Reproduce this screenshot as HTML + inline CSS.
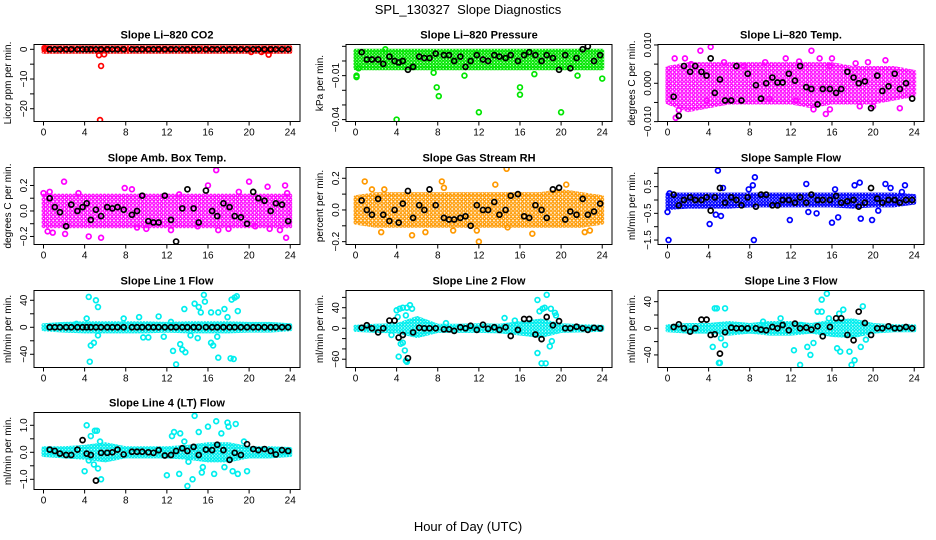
<!DOCTYPE html>
<html><head><meta charset="utf-8"><style>
html,body{margin:0;padding:0;background:#fff;}
svg{display:block;font-family:"Liberation Sans",sans-serif;}
</style></head><body>
<svg id="c" width="936" height="540" viewBox="0 0 936 540">
<defs id="defs"></defs>
<text x="468" y="14" text-anchor="middle" font-size="13" style="white-space:pre">SPL_130327  Slope Diagnostics</text>
<text x="468" y="531" text-anchor="middle" font-size="13">Hour of Day (UTC)</text>
</svg>
<script>
const blackX=[0.6,1.1,1.6,2.2,2.7,3.3,3.8,4.2,4.6,5.1,5.6,6.2,6.7,7.2,7.8,8.6,9.1,9.6,10.2,10.7,11.2,11.8,12.4,12.9,13.5,14,14.6,15.1,15.8,16.4,16.9,17.5,18.1,18.6,19.2,19.8,20.4,20.9,21.5,22.1,22.6,23.2,23.8];
const bandX=[0,2,4,6,8,10,12,14,16,18,20,22,24];
const xTicks=[0,4,8,12,16,20,24];

const p1Black=[0,0,0,0,0,0,0,0,0,0,0,0,0,0,0,0,0,0,0,0,0,0,0,0,0,0,0,0,0,0,0,0,0,0,0,0,0,0,0,0,0,0,0];
const p1Hi=[0.7,0.7,0.7,0.7,0.7,0.7,0.7,0.7,0.7,0.7,0.7,0.7,0.7];
const p1Lo=[-0.8,-0.8,-0.8,-0.8,-0.8,-0.8,-0.8,-0.8,-0.8,-0.8,-0.8,-0.8,-0.8];
const p1X=[5.4,5.6,5.5,5.9,21.9,20.2,21.2,0.1];
const p1Y=[-2,-5.6,-23.8,-1.7,-1.8,-0.9,-0.9,0.4];

const p2Black=[0.006,0.001,0.001,0.001,-0.002,0.003,0.0,-0.001,0.0,-0.006,-0.004,0.003,0.002,0.002,0.005,0.004,0.004,0.0,0.003,-0.004,0.0,0.004,0.001,0.0,0.004,0.003,0.002,0.004,0.0,0.004,0.006,0.004,0.0,0.004,0.002,-0.006,0.004,-0.005,0.002,0.008,0.010,0.0,0.004];
const p2Hi=[0.007,0.007,0.007,0.007,0.007,0.007,0.007,0.007,0.007,0.007,0.007,0.007,0.007];
const p2Lo=[-0.005,-0.005,-0.005,-0.005,-0.005,-0.005,-0.005,-0.005,-0.005,-0.005,-0.005,-0.005,-0.005];
const p2X=[0.1,0.1,4,7.9,8.1,12,16,16,20,24,10.6,21.6,7.6,17.4,0.3,2.9];
const p2Y=[-0.010,-0.011,-0.040,-0.018,-0.024,-0.035,-0.018,-0.023,-0.035,-0.012,-0.010,-0.010,-0.008,-0.009,-0.005,0.008];

const p3Black=[-0.0035,-0.0085,0.0045,0.003,0.0045,0.003,0.002,0.0065,-0.0025,0.001,-0.0045,-0.0045,0.0045,-0.0045,0.0025,-0.0005,-0.004,0,0.0015,0.0002,0.0002,0.0025,0.0007,0.0045,-0.001,-0.0015,-0.0055,-0.0015,-0.0015,-0.0025,-0.0015,0.003,0.0015,0,0.0005,-0.0065,0.002,-0.002,-0.0008,0.0025,-0.0015,0,-0.004];
const p3Hi=[0.004,0.005,0.005,0.005,0.005,0.005,0.005,0.005,0.005,0.004,0.004,0.004,0.003];
const p3Lo=[-0.005,-0.007,-0.006,-0.005,-0.005,-0.005,-0.005,-0.006,-0.005,-0.005,-0.005,-0.004,-0.003];
const p3X=[0.8,1.1,0.7,3.2,4.2,2.3,1.7,7.4,9.5,11.5,12.8,14,14.8,15.8,15.4,15.8,14.2,18.3,19.5,21.2,22.6,20,18.7,5.5,3.8,9.9,16,12.5];
const p3Y=[-0.009,-0.007,0.0065,0.0085,0.0095,0.005,0.0065,0.0045,0.0055,0.0065,0.0057,0.0085,0.0065,0.0045,-0.008,-0.0068,-0.0068,0.0052,0.0055,0.006,-0.0065,-0.006,-0.006,0.0055,-0.0045,-0.004,0.0065,-0.0045];

const p4Black=[0.1,0.03,-0.01,-0.12,0.05,0.0,0.03,0.06,-0.07,0.01,-0.04,0.03,0.02,0.03,0.01,-0.03,0.0,0.12,-0.08,-0.09,-0.09,0.12,-0.07,-0.24,0.02,0.17,0.02,-0.09,0.16,0.0,-0.04,0.06,0.03,-0.04,-0.05,-0.1,0.15,0.1,0.08,0.0,0.06,0.05,-0.08];
const p4Hi=[0.12,0.12,0.12,0.12,0.12,0.12,0.12,0.12,0.12,0.12,0.12,0.12,0.12];
const p4Lo=[-0.12,-0.12,-0.12,-0.12,-0.12,-0.12,-0.12,-0.12,-0.12,-0.12,-0.12,-0.12,-0.12];
const p4X=[0,0.6,2.0,2.1,0.4,0.9,3.4,4.4,5.6,7.9,8.6,9.1,10.0,12.4,13.2,15.0,16.0,16.8,17.0,18.0,19.0,20.0,20.6,21.8,22.0,23.0,23.5,23.6,23.7];
const p4Y=[0.14,0.15,0.23,-0.18,-0.16,-0.17,0.14,-0.2,-0.21,0.18,0.17,-0.13,-0.14,-0.15,0.13,-0.12,0.2,0.32,-0.15,-0.14,0.15,0.23,-0.12,0.19,-0.14,-0.15,0.2,-0.21,0.14];

const p5Black=[0.06,0.0,-0.03,0.07,-0.03,-0.07,0.0,-0.08,0.04,0.12,-0.05,0.03,0.0,0.13,0.03,-0.05,-0.06,-0.06,-0.05,-0.04,-0.1,0.03,0.0,0.0,0.05,-0.03,0.0,0.09,0.1,-0.04,-0.05,0.03,0.0,-0.05,0.13,0.14,-0.06,-0.01,-0.03,0.07,-0.03,-0.01,0.04];
const p5Hi=[0.08,0.1,0.1,0.1,0.1,0.1,0.1,0.1,0.1,0.1,0.12,0.1,0.08];
const p5Lo=[-0.08,-0.1,-0.1,-0.1,-0.1,-0.1,-0.1,-0.1,-0.1,-0.1,-0.1,-0.1,-0.08];
const p5X=[0.9,1.6,2.5,2.8,5.5,6.8,8.4,8.6,9.5,12.0,11.8,13.6,14.7,14.8,17.2,20.5,22.3,22.8];
const p5Y=[0.18,0.13,-0.14,0.13,-0.16,-0.14,0.18,0.14,-0.13,-0.2,-0.13,0.16,0.26,-0.11,-0.15,0.16,-0.14,-0.13];

const p6Black=[0.2,-0.2,0.0,0.1,0.0,0.0,0.1,-0.4,0.1,0.45,-0.1,0.1,0.0,-0.2,0.1,-0.25,0.2,0.2,-0.2,-0.2,0.0,0.0,-0.1,0.1,-0.1,0.2,0.0,0.0,0.0,0.15,-0.1,-0.05,0.0,-0.25,-0.1,0.45,0.05,-0.1,0.0,0.0,-0.1,0.0,0.0];
const p6Hi=[0.2,0.2,0.2,0.2,0.2,0.2,0.2,0.2,0.2,0.2,0.2,0.2,0.15];
const p6Lo=[-0.3,-0.25,-0.25,-0.25,-0.2,-0.2,-0.2,-0.2,-0.2,-0.25,-0.2,-0.2,-0.1];
const p6X=[0.1,0,0.2,4.1,4.9,5.4,4.7,5.2,8.4,8.5,8.3,7.9,11.9,13.5,13.7,14.5,16,16.6,16.3,18.2,18.7,18.8,19.9,21.2,21.7,23.1,22.8,20.5];
const p6Y=[-1.5,-0.45,0.25,-0.9,1.1,0.45,-0.55,-0.6,-1.5,0.85,0.55,0.4,-0.75,0.6,-0.45,-0.5,-0.85,-0.65,0.4,0.55,0.65,-0.7,-0.75,0.6,0.45,0.55,0.3,-0.4];

const p7Black=[0,0,0,0,0,0,0,0,0,0,0,0,0,0,0,0,0,0,0,0,0,0,0,0,0,0,0,0,0,0,0,0,0,0,0,0,0,0,0,0,0,0,0];
const p7Hi=[3,5,6,6,6,6,5,6,6,6,5,5,3];
const p7Lo=[-3,-5,-6,-6,-6,-6,-5,-6,-6,-6,-5,-5,-3];
const p7X=[4.4,5.1,5.3,4.6,4.9,4.5,5.3,4.2,7.8,9.3,9.7,10.2,11.2,11.7,12.6,12.9,13.3,13.5,13.8,13.7,14.7,15.1,15.3,15.6,15.7,16.3,16.5,16.3,17,17.0,17.6,17.9,18.2,18.5,18.3,18.6,18.8,18.9,15.0,14.3,16.9,12.4,3.2];
const p7Y=[45,40,30,-27,-23,-51,-12,13,13,15,-15,-15,16,-14,-35,-55,-25,-33,-37,27,35,30,22,48,38,-23,-27,22,-45,22,27,15,-46,-47,41,44,46,24,-16,-12,-14,8,5];

const p8Black=[1,6,0,-8,0,15,15,-18,-13,-58,-8,1,0,0,0,-2,-2,-5,2,0,5,-3,7,-1,2,-3,2,-15,-3,18,18,-12,-21,22,6,14,0,0,3,0,-3,1,0];
const p8Hi=[3,5,6,20,5,5,6,5,10,15,6,4,3];
const p8Lo=[-3,-5,-6,-15,-5,-5,-5,-6,-10,-15,-5,-4,-3];
const p8X=[4.0,4.3,4.6,5.0,5.3,5.5,4.1,4.9,4.4,4.6,4.8,4.2,4.9,5.0,14.5,15.5,17.7,17.9,18.2,18.6,18.4,19.0,19.4,17.7,18.1,18.5,18.9,19.1,19.5,3.5,8.8];
const p8Y=[35,38,40,40,45,38,22,25,-30,-28,-43,-55,-63,-65,20,15,55,33,38,65,40,38,30,-48,-68,-68,-35,-25,25,-13,10];

const p9Black=[2,6,0,-5,0,13,13,-10,-9,-38,-6,1,0,0,0,0,-2,-3,2,0,5,-3,7,0,1,-2,3,-12,2,15,15,-10,-18,25,8,-10,0,0,3,0,0,2,0];
const p9Hi=[3,5,5,8,5,8,8,5,10,12,5,3,3];
const p9Lo=[-3,-5,-5,-8,-5,-8,-8,-5,-10,-12,-5,-3,-3];
const p9X=[4.6,4.8,5.6,4.4,5.0,5.1,5.6,5.2,9.3,11.0,12.3,12.9,13.6,13.9,14.2,14.6,15.0,15.5,15.7,16.5,16.8,17.1,17.7,17.9,18.2,18.8,19.0,19.3,16.7,15.0,13.0];
const p9Y=[30,30,30,-28,-52,-52,-25,-15,10,15,-33,-55,-28,-40,-22,25,43,52,15,-30,-35,28,-35,-55,-48,-28,33,-17,22,25,5];

const p10Black=[0.1,0.05,-0.05,-0.1,-0.1,0.1,0.45,-0.05,-0.1,-1.05,-0.02,-0.02,0.0,0.1,-0.08,0.02,0.02,0.02,0.0,-0.02,0.08,-0.12,-0.1,0.05,0.15,0.05,0.2,-0.1,0.1,0.08,0.28,0.08,-0.28,-0.02,-0.1,0.3,0.12,0.08,0.12,0.05,-0.08,0.08,0.05];
const p10Hi=[0.15,0.15,0.2,0.3,0.15,0.15,0.15,0.2,0.3,0.3,0.15,0.15,0.12];
const p10Lo=[-0.1,-0.15,-0.2,-0.3,-0.15,-0.15,-0.15,-0.2,-0.3,-0.3,-0.15,-0.15,-0.1];
const p10X=[4.2,4.0,4.6,5.0,5.2,5.5,5.3,5.6,4.9,4.4,12.0,12.5,12.7,13.3,13.2,13.7,14.1,14.0,14.5,14.7,15.1,15.5,15.4,16.0,16.6,16.8,17.3,17.9,18.0,18.7,18.4,18.9,19.8,19.5,17.6];
const p10Y=[1.0,-0.7,0.6,0.8,0.8,0.4,-0.6,-1.0,-0.45,-0.3,-0.85,0.6,0.75,0.7,-0.8,0.4,-0.35,-1.25,-1.0,1.35,0.75,-0.55,-0.75,0.95,-0.8,1.15,0.7,1.1,0.95,1.05,-0.7,-0.8,-0.7,0.4,-0.55];

const NS='http://www.w3.org/2000/svg';
const svg=document.getElementById('c');
const defs=document.getElementById('defs');
const W=266,H=77;
const cols=[34,346,658], rows=[44.5,167.5,290.5,412.5];
function mk(tag,attrs,parent){const e=document.createElementNS(NS,tag);for(const k in attrs)e.setAttribute(k,attrs[k]);(parent||svg).appendChild(e);return e;}

const patMade={};
function pattern(color,dense){
  const id='pat-'+color.replace('#','')+(dense?'d':'');
  if(!patMade[id]){
    const s=dense?3.2:3.8;
    const p=mk('pattern',{id:id,width:s,height:s,patternUnits:'userSpaceOnUse'},defs);
    mk('circle',{cx:s/2,cy:s/2,r:1.25,fill:'none',stroke:color,'stroke-width':1.2},p);
    patMade[id]=1;
  }
  return 'url(#'+id+')';
}

const panels=[
 {t:'Slope Li\u2013820 CO2',yl:'Licor ppm per min.',c:0,r:0,d:[-24.3,1.62],ticks:[0,-5,-10,-15,-20],labs:[0,-10,-20],fmt:v=>String(v).replace('-','\u2212'),col:'#ff0000',dense:true,bk:p1Black,hi:p1Hi,lo:p1Lo,px:p1X,py:p1Y,n:'co2'},
 {t:'Slope Li\u2013820 Pressure',yl:'kPa per min.',c:1,r:0,d:[-0.0413,0.01125],ticks:[0.01,0,-0.01,-0.02,-0.03,-0.04],labs:[-0.01,-0.04],fmt:v=>v.toFixed(2).replace('-','\u2212'),col:'#00e600',dense:true,bk:p2Black,hi:p2Hi,lo:p2Lo,px:p2X,py:p2Y,n:'pressure'},
 {t:'Slope Li\u2013820 Temp.',yl:'degrees C per min.',c:2,r:0,d:[-0.00997,0.01012],ticks:[0.01,0.005,0,-0.005,-0.01],labs:[0.01,0,-0.01],fmt:v=>v.toFixed(3).replace('-','\u2212'),col:'#ff00ff',dense:false,bk:p3Black,hi:p3Hi,lo:p3Lo,px:p3X,py:p3Y,n:'li820-temp'},
 {t:'Slope Amb. Box Temp.',yl:'degrees C per min.',c:0,r:1,d:[-0.263,0.341],ticks:[0.2,0.1,0,-0.1,-0.2],labs:[0.2,0,-0.2],fmt:v=>v.toFixed(1).replace('-','\u2212'),col:'#ff00ff',dense:false,bk:p4Black,hi:p4Hi,lo:p4Lo,px:p4X,py:p4Y,n:'amb-box-temp'},
 {t:'Slope Gas Stream RH',yl:'percent per min.',c:1,r:1,d:[-0.218,0.268],ticks:[0.2,0.1,0,-0.1,-0.2],labs:[0.2,0,-0.2],fmt:v=>v.toFixed(1).replace('-','\u2212'),col:'#ff9900',dense:false,bk:p5Black,hi:p5Hi,lo:p5Lo,px:p5X,py:p5Y,n:'gas-rh'},
 {t:'Slope Sample Flow',yl:'ml/min per min.',c:2,r:1,d:[-1.667,1.217],ticks:[1,0.5,0,-0.5,-1,-1.5],labs:[0.5,-0.5,-1.5],fmt:v=>v.toFixed(1).replace('-','\u2212'),col:'#0000ff',dense:true,bk:p6Black,hi:p6Hi,lo:p6Lo,px:p6X,py:p6Y,n:'sample-flow'},
 {t:'Slope Line 1 Flow',yl:'ml/min per min.',c:0,r:2,d:[-59.6,54.5],ticks:[40,20,0,-20,-40],labs:[40,0,-40],fmt:v=>String(v).replace('-','\u2212'),col:'#00eeee',dense:true,bk:p7Black,hi:p7Hi,lo:p7Lo,px:p7X,py:p7Y,n:'line1-flow'},
 {t:'Slope Line 2 Flow',yl:'ml/min per min.',c:1,r:2,d:[-76.1,73.4],ticks:[60,40,20,0,-20,-40,-60],labs:[40,0,-60],fmt:v=>String(v).replace('-','\u2212'),col:'#00eeee',dense:true,bk:p8Black,hi:p8Hi,lo:p8Lo,px:p8X,py:p8Y,n:'line2-flow'},
 {t:'Slope Line 3 Flow',yl:'ml/min per min.',c:2,r:2,d:[-58.9,56.8],ticks:[40,20,0,-20,-40],labs:[40,0,-40],fmt:v=>String(v).replace('-','\u2212'),col:'#00eeee',dense:true,bk:p9Black,hi:p9Hi,lo:p9Lo,px:p9X,py:p9Y,n:'line3-flow'},
 {t:'Slope Line 4 (LT) Flow',yl:'ml/min per min.',c:0,r:3,d:[-1.378,1.474],ticks:[1,0.5,0,-0.5,-1],labs:[1,0,-1],fmt:v=>v.toFixed(1).replace('-','\u2212'),col:'#00eeee',dense:true,bk:p10Black,hi:p10Hi,lo:p10Lo,px:p10X,py:p10Y,n:'line4-flow'}
];

panels.forEach(p=>{
  const L=cols[p.c],T=rows[p.r];
  const sx=v=>L+9.5+v*10.28;
  const sy=v=>T+H-(v-p.d[0])/(p.d[1]-p.d[0])*H;
  const g=mk('g',{});
  
  
  const clipId='clip-'+p.n;
  const cp=mk('clipPath',{id:clipId},g);
  mk('rect',{x:L,y:T,width:W,height:H},cp);
  const plot=mk('g',{'clip-path':'url(#'+clipId+')'},g);
  const pts=bandX.map((x,i)=>sx(x)+','+sy(p.hi[i])).concat(bandX.slice().reverse().map((x,j)=>{const i=bandX.length-1-j;return sx(x)+','+sy(p.lo[i]);}));
  const pf=pattern(p.col,p.dense);
  const band=mk('polygon',{points:pts.join(' '),fill:pf,stroke:pf,'stroke-width':4,'stroke-linejoin':'round'},plot);
  
  
  p.px.forEach((x,i)=>{
    const c=mk('circle',{cx:sx(x),cy:sy(p.py[i]),r:2.4,fill:'none',stroke:p.col,'stroke-width':1.7},plot);
    
    
  });
  blackX.forEach((x,i)=>{
    const c=mk('circle',{cx:sx(x),cy:sy(p.bk[i]),r:2.5,fill:'none',stroke:'#000','stroke-width':1.7},plot);
    
    
  });
  const box=mk('rect',{x:L,y:T,width:W,height:H,fill:'none',stroke:'#000','stroke-width':1},g);
  
  
  const tt=mk('text',{x:L+W/2,y:T-6,'text-anchor':'middle','font-size':11,'font-weight':'bold'},g);
  tt.textContent=p.t;
  
  
  const yl=mk('text',{transform:'translate('+(L-23)+','+(T+H/2)+') rotate(-90)','text-anchor':'middle','font-size':10},g);
  yl.textContent=p.yl;
  
  
  mk('line',{x1:sx(0),x2:sx(24),y1:T+H,y2:T+H,stroke:'#000'},g);
  xTicks.forEach(v=>{
    mk('line',{x1:sx(v),x2:sx(v),y1:T+H,y2:T+H+4,stroke:'#000'},g);
    const t=mk('text',{x:sx(v),y:T+H+14,'text-anchor':'middle','font-size':10},g);
    t.textContent=v;
    
    
  });
  p.ticks.forEach(v=>{mk('line',{x1:L-4,x2:L,y1:sy(v),y2:sy(v),stroke:'#000'},g);});
  p.labs.forEach(v=>{
    const t=mk('text',{transform:'translate('+(L-7)+','+sy(v)+') rotate(-90)','text-anchor':'middle','font-size':10},g);
    t.textContent=p.fmt(v);
    
    
  });
});
</script>
</body></html>
